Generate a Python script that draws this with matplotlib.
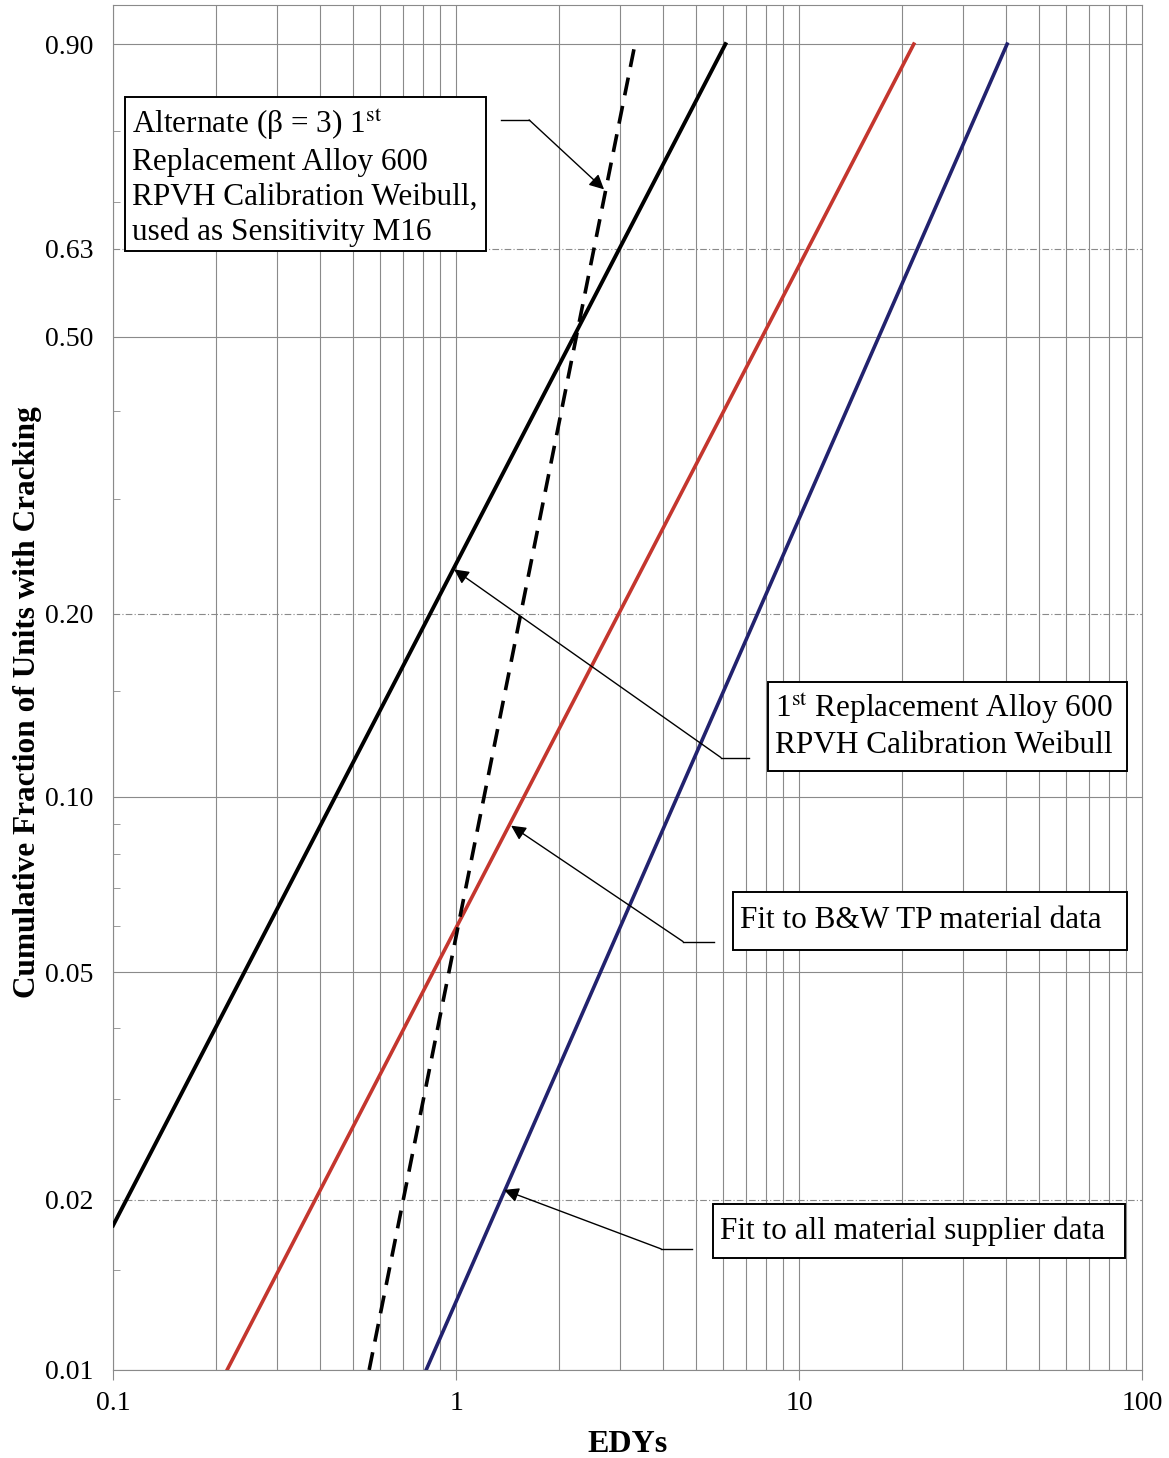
import numpy as np
import matplotlib
matplotlib.use("Agg")
import matplotlib.pyplot as plt
from matplotlib.patches import Rectangle

plt.rcParams['font.family'] = ['Liberation Serif', 'DejaVu Serif']
plt.rcParams['mathtext.fontset'] = 'stix'

# line end points (EDYs, cumulative fraction)
edy_black = [0.1, 6.1]
frac_black = [0.018, 0.90]
edy_red = [0.215, 21.6]
frac_red = [0.01, 0.90]
edy_blue = [0.818, 40.4]
frac_blue = [0.01, 0.90]
edy_dash = [0.558, 3.3]
frac_dash = [0.01, 0.895]

y_ticks = [0.01, 0.02, 0.05, 0.10, 0.20, 0.50, 0.63, 0.90]
y_tick_labels = ['0.01', '0.02', '0.05', '0.10', '0.20', '0.50', '0.63', '0.90']
y_minor = [0.015, 0.03, 0.04, 0.06, 0.07, 0.08, 0.09, 0.15, 0.30, 0.40, 0.70, 0.80]
dashed_grid = [0.02, 0.20, 0.63]
x_ticks = [0.1, 1, 10, 100]
x_tick_labels = ['0.1', '1', '10', '100']


def weib(f):
    f = np.clip(np.asarray(f, dtype=float), 1e-9, 1 - 1e-9)
    return np.log(-np.log(1 - f))


def weib_inv(w):
    return 1 - np.exp(-np.exp(np.asarray(w, dtype=float)))


fig = plt.figure(figsize=(11.69, 14.58), dpi=100)
ax = fig.add_axes([0.0967, 0.0604, 0.8803, 0.9362])
ax.set_xscale('log')
ax.set_yscale('function', functions=(weib, weib_inv))
ax.set_xlim(0.1, 100)
ax.set_ylim(0.01, 0.933)

# grid
grid_col = '#8a8a8a'
for dec in [0.1, 1, 10]:
    for k in range(1, 10):
        ax.axvline(dec * k, color=grid_col, lw=0.8, zorder=1)
for v in y_ticks:
    ls = (0, (6, 2, 1, 2)) if v in dashed_grid else '-'
    ax.axhline(v, color=grid_col, lw=0.8, ls=ls, zorder=1)

# Weibull lines
ax.plot(edy_black, frac_black, color='black', lw=2.8, zorder=3)
ax.plot(edy_red, frac_red, color='#c4362e', lw=2.6, zorder=3)
ax.plot(edy_blue, frac_blue, color='#22226e', lw=2.6, zorder=3)
ax.plot(edy_dash, frac_dash, color='black', lw=2.6, ls=(0, (5, 3)), zorder=3)

ax.set_yticks(y_ticks)
ax.set_yticklabels(y_tick_labels)
ax.set_yticks(y_minor, minor=True)
ax.set_xticks(x_ticks)
ax.set_xticklabels(x_tick_labels)
ax.xaxis.set_minor_locator(matplotlib.ticker.NullLocator())
ax.tick_params(axis='both', which='major', labelsize=20, length=0)
ax.tick_params(axis='y', which='major', pad=14)
ax.tick_params(axis='x', which='major', length=7, direction='out', color=grid_col, pad=8)
ax.tick_params(axis='y', which='minor', length=5, direction='in', color=grid_col)
for s in ax.spines.values():
    s.set_color(grid_col)
    s.set_linewidth(0.8)

ax.set_xlabel('EDYs', fontsize=23, fontweight='bold', labelpad=10)
ax.set_ylabel('Cumulative Fraction of Units with Cracking', fontsize=22.5,
              fontweight='bold')
ax.yaxis.set_label_coords(-0.069, 0.489)

# callouts: (start, elbow, tip)
callouts = [
    ((1.352, 0.815), (1.633, 0.815), (2.70, 0.719)),
    ((7.15, 0.1163), (5.92, 0.1163), (0.987, 0.2346)),
    ((5.65, 0.0565), (4.59, 0.0565), (1.447, 0.0893)),
    ((4.88, 0.01637), (3.96, 0.01637), (1.38, 0.0208)),
]
for start, elbow, tip in callouts:
    ax.plot([start[0], elbow[0]], [start[1], elbow[1]], color='black', lw=1.0, zorder=4)
    ax.annotate('', xy=tip, xytext=elbow,
                arrowprops=dict(arrowstyle='-|>', color='black', lw=1.0,
                                mutation_scale=22, shrinkA=0, shrinkB=0),
                zorder=4)

# text boxes (axes fraction)
boxes = [
    ((0.0117, 0.8198), 0.3508, 0.1128),
    ((0.6365, 0.4388), 0.3489, 0.0652),
    ((0.6025, 0.3077), 0.3829, 0.0425),
    ((0.5831, 0.0821), 0.4004, 0.0395),
]
for (x0, y0), w, h in boxes:
    ax.add_patch(Rectangle((x0, y0), w, h, transform=ax.transAxes,
                           facecolor='white', edgecolor='black', lw=1.4, zorder=5))

txt = dict(transform=ax.transAxes, fontsize=22.5, zorder=6, ha='left')
ax.text(0.0185, 0.9250,
        'Alternate (\u03b2 = 3) 1$^{\\mathrm{st}}$\nReplacement Alloy 600\n'
        'RPVH Calibration Weibull,\nused as Sensitivity M16',
        va='top', linespacing=1.26, **txt)
ax.text(0.6433, 0.4718, '1$^{\\mathrm{st}}$ Replacement Alloy 600\nRPVH Calibration Weibull',
        va='center', linespacing=1.22, **txt)
ax.text(0.6093, 0.3289, 'Fit to B&W TP material data', va='center', **txt)
ax.text(0.5899, 0.1018, 'Fit to all material supplier data', va='center', **txt)

fig.savefig('out.png', dpi=100)
